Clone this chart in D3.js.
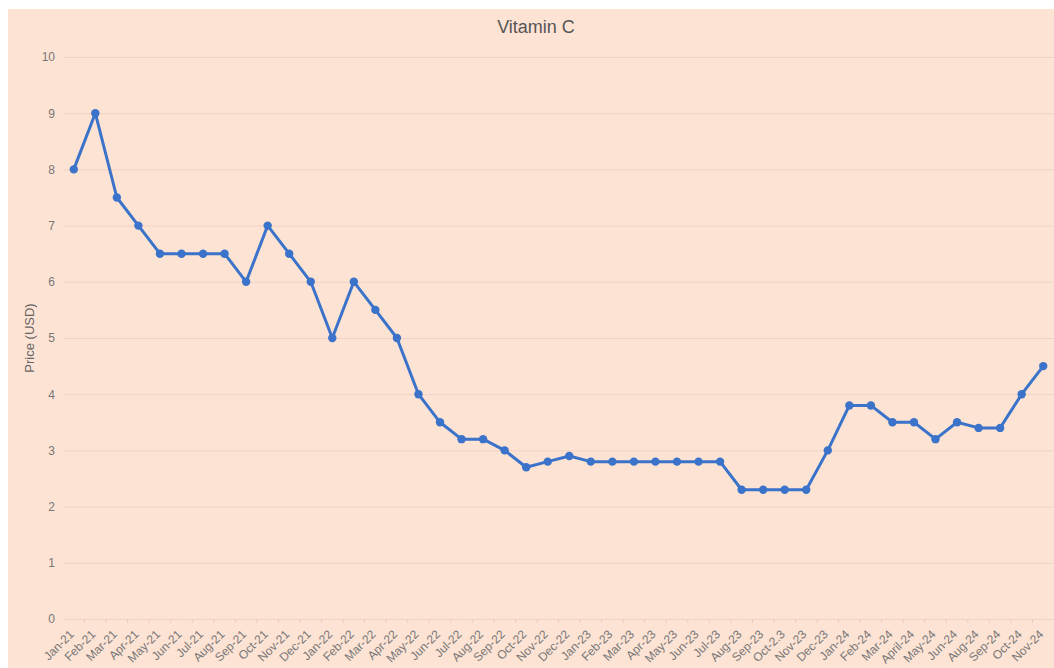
<!DOCTYPE html>
<html>
<head>
<meta charset="utf-8">
<script src="https://cdn.jsdelivr.net/npm/d3@7"></script>
<style>
  body { margin: 0; background: #fff; }
  svg { display: block; font-family: "Helvetica Neue", "Liberation Sans", Arial, sans-serif; }
</style>
</head>
<body>
<div id="vis1"></div>
<script>
// chart values
const MONTHS = ["Jan-21","Feb-21","Mar-21","Apr-21","May-21","Jun-21","Jul-21","Aug-21","Sep-21","Oct-21","Nov-21","Dec-21",
  "Jan-22","Feb-22","Mar-22","Apr-22","May-22","Jun-22","Jul-22","Aug-22","Sep-22","Oct-22","Nov-22","Dec-22",
  "Jan-23","Feb-23","Mar-23","Apr-23","May-23","Jun-23","Jul-23","Aug-23","Sep-23","Oct-2.3","Nov-23","Dec-23",
  "Jan-24","Feb-24","Mar-24","April-24","May-24","Jun-24","Aug-24","Sep-24","Oct-24","Nov-24"];
const PRICES = [8, 9, 7.5, 7, 6.5, 6.5, 6.5, 6.5, 6, 7, 6.5, 6,
  5, 6, 5.5, 5, 4, 3.5, 3.2, 3.2, 3.0, 2.7, 2.8, 2.9,
  2.8, 2.8, 2.8, 2.8, 2.8, 2.8, 2.8, 2.3, 2.3, 2.3, 2.3, 3.0,
  3.8, 3.8, 3.5, 3.5, 3.2, 3.5, 3.4, 3.4, 4.0, 4.5];
const Y_TICKS = [0, 1, 2, 3, 4, 5, 6, 7, 8, 9, 10];

const FRAME_WIDTH = 1054;
const FRAME_HEIGHT = 668;
const MARGINS = {left: 63, right: 0, top: 57, bottom: 49};

const data = MONTHS.map((m, i) => ({month: m, price: PRICES[i]}));

const svg = d3.select("#vis1")
  .append("svg")
    .attr("width", FRAME_WIDTH)
    .attr("height", FRAME_HEIGHT);

// peach panel
svg.append("rect")
  .attr("x", 8).attr("y", 9)
  .attr("width", FRAME_WIDTH - 8)
  .attr("height", FRAME_HEIGHT - 9)
  .attr("fill", "#fde3d4");

// band scale: ticks on band edges, points at band centres
const xScale = d3.scaleBand()
  .domain(MONTHS)
  .range([MARGINS.left, FRAME_WIDTH - MARGINS.right])
  .padding(0);
const xMid = m => xScale(m) + xScale.bandwidth() / 2;

const yScale = d3.scaleLinear()
  .domain([0, 10])
  .range([FRAME_HEIGHT - MARGINS.bottom, MARGINS.top]);

// gridlines + y labels
const yAxis = svg.append("g")
  .attr("transform", `translate(${MARGINS.left}, 0)`)
  .call(d3.axisLeft(yScale).tickValues(Y_TICKS)
    .tickSize(-(FRAME_WIDTH - MARGINS.left))
    .tickPadding(8));
yAxis.select(".domain").remove();
yAxis.selectAll(".tick line").attr("stroke", "#f0d2c4").attr("stroke-width", 1);
yAxis.selectAll(".tick text")
  .attr("fill", "#777").attr("font-size", 12);

// x axis: small ticks at category boundaries
const xg = svg.append("g")
  .attr("transform", `translate(0, ${yScale(0)})`);
xg.selectAll(".xtick")
  .data(MONTHS.slice(1))
  .enter()
  .append("line")
  .attr("class", "xtick")
  .attr("x1", d => xScale(d)).attr("x2", d => xScale(d))
  .attr("y1", 0).attr("y2", 4)
  .attr("stroke", "#eccbbb");

xg.selectAll(".xlabel")
  .data(MONTHS)
  .enter()
  .append("text")
  .attr("class", "xlabel")
  .attr("transform", d => `translate(${xMid(d) - 2}, 13) rotate(-45)`)
  .attr("text-anchor", "end")
  .attr("dy", "0.35em")
  .attr("fill", "#777")
  .attr("font-size", 12)
  .text(d => d);

// title
svg.append("text")
  .attr("x", 536).attr("y", 33)
  .attr("text-anchor", "middle")
  .attr("font-size", 18)
  .attr("fill", "#555")
  .text("Vitamin C");

// y axis title
svg.append("text")
  .attr("transform", `translate(34, ${(yScale(0) + yScale(10)) / 2}) rotate(-90)`)
  .attr("text-anchor", "middle")
  .attr("font-size", 13)
  .attr("fill", "#666")
  .text("Price (USD)");

// line
const line = d3.line()
  .x(d => xMid(d.month))
  .y(d => yScale(d.price));

svg.append("path")
  .datum(data)
  .attr("d", line)
  .attr("fill", "none")
  .attr("stroke", "#3a73c9")
  .attr("stroke-width", 3)
  .attr("stroke-linejoin", "round");

svg.selectAll(".dot")
  .data(data)
  .enter()
  .append("circle")
  .attr("class", "dot")
  .attr("cx", d => xMid(d.month))
  .attr("cy", d => yScale(d.price))
  .attr("r", 4.2)
  .attr("fill", "#3a73c9");
</script>
</body>
</html>
